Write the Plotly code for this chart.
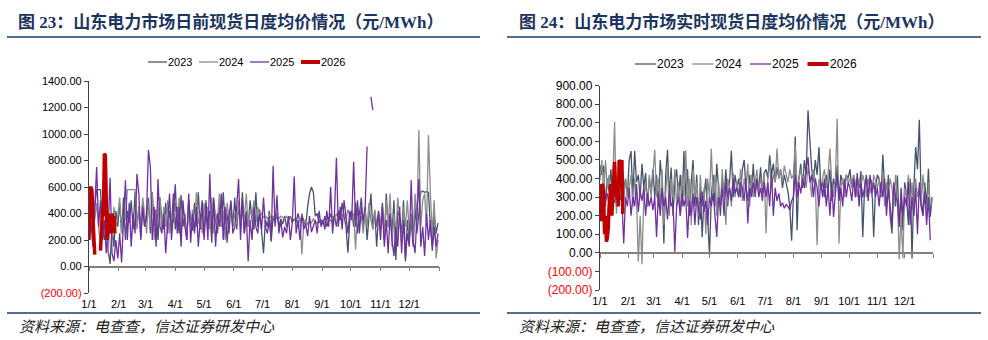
import pandas as pd
import plotly.graph_objects as go

# ---------------- data (2-day sampling) ----------------
month_labels = ["1/1", "2/1", "3/1", "4/1", "5/1", "6/1", "7/1", "8/1", "9/1", "10/1", "11/1", "12/1"]
series_names = ["2023", "2024", "2025", "2026"]

# Left: day-ahead (日前)
da_2023 = [
    380, 300, 250, 450, 580, 580, 580, 300, 200, 350, 120, 20, 300, 150, 420, 300,
    480, 250, 520, 200, 420, 330, 500, 280, 560, 300, 450, 220, 480, 300,
    350, 520, 250, 560, 300, 430, 200, 520, 350, 280, 480, 250, 420, 300, 550, 280,
    450, 250, 540, 300, 400, 200, 500, 350, 270, 480, 300, 560, 280, 420, 230,
    500, 300, 420, 180, 520, 350, 250, 470, 300, 560, 320, 400, 250, 480, 300,
    520, 280, 450, 330, 560, 250, 420, 300, 500, 350, 280, 560, 300, 430, 270,
    100, 350, 300, 420, 188, 380, 330, 400, 300, 360, 320, 380, 300, 350, 380, 330,
    360, 330, 400, 340, 380, 350, 300, 450, 550, 600, 560, 380, 400, 330, 350,
    320, 380, 300, 350, 400, 320, 380, 300, 420, 350, 480, 380, 300, 105, 350,
    420, 300, 480, 250, 400, 520, 300, 450, 200, 380, 550, 280, 420, 150, 400, 300,
    480, 200, 550, 300, 400, 250, 500, 50, 420, 380, 250, 500, 38, 350, 200,
    350, 150, 450, 250, 400, 560, 570, 560, 565, 560, 300, 150, 400, 250, 330,
]
da_2024 = [
    300, 450, 550, 350, 480, 300, 150, 400, 250, 480, 100, 350, 200, 450, 300, 380,
    520, 250, 400, 350, 580, 580, 580, 580, 580, 280, 450, 300, 520, 400,
    250, 480, 300, 550, 200, 420, 350, 520, 280, 450, 300, 500, 250, 400, 330, 480,
    300, 520, 250, 450, 350, 200, 500, 300, 430, 260, 560, 320, 400, 250, 480,
    330, 450, 280, 520, 250, 400, 350, 550, 300, 420, 200, 480, 350, 430, 300,
    400, 320, 500, 280, 450, 350, 550, 300, 420, 380, 500, 330, 450, 380, 400,
    370, 380, 360, 390, 370, 380, 350, 390, 360, 380, 370, 360, 380, 350, 370, 360,
    350, 340, 330, 360, 90, 330, 350, 320, 340, 330, 360, 340, 320, 350, 340,
    350, 330, 360, 370, 340, 380, 360, 400, 350, 420, 380, 400, 360, 430, 380,
    350, 400, 126, 450, 320, 380, 250, 420, 300, 480, 350, 280, 430, 320, 400, 280,
    450, 200, 500, 300, 550, 150, 400, 250, 520, 350, 180, 450, 300, 500, 250,
    400, 200, 550, 350, 1030, 300, 500, 550, 300, 990, 550, 250, 500, 60, 200,
]
da_2025 = [
    200, 350, 150, 450, 750, 300, 500, 200, 350, 100, 300, 670, 100, 40, 200, 60,
    250, 30, 350, 650, 200, 480, 150, 400, 250, 700, 550, 200, 450, 300,
    400, 880, 750, 200, 450, 150, 660, 300, 250, 400, 100, 300, 550, 200, 400, 620,
    250, 450, 150, 500, 300, 200, 550, 180, 400, 250, 450, 150, 350, 500, 200,
    450, 200, 700, 250, 500, 150, 400, 300, 550, 200, 450, 180, 380, 500, 250,
    300, 450, 660, 200, 500, 250, 400, 40, 350, 200, 450, 300, 250, 400, 280,
    520, 300, 250, 350, 200, 760, 300, 538, 250, 350, 220, 300, 250, 380, 200, 330,
    680, 250, 350, 200, 400, 280, 320, 230, 380, 260, 300, 350, 250, 420, 300,
    350, 280, 420, 300, 600, 250, 400, 820, 300, 450, 280, 500, 350, 250, 420,
    350, 790, 300, 500, 250, 450, 350, 450, 906, None, 1280, 1180, None, 300, 420, 200,
    450, 150, 350, 100, 400, 200, 80, 300, 150, 450, 100, 350, 60, 250, 150,
    650, 200, 100, 350, 660, 150, 300, 80, 400, 200, 350, 120, 300, 150, 250,
]
da_2026 = [200, 590, 600, 580, 380, 150, 90, None, None, None, None, None,
           120, 250, 420, 380, 850, 840, 300, 200, 400, 280, 380, 250, 400, 300, 380, 250]

# Right: real-time (实时)
rt_2023 = [
    470, 420, 470, 250, 400, 330, 450, 280, 380, 250, 420, 300, 460, 350, 400, 300,
    500, 548, 300, 550, 380, 420, 300, 480, 350, 430, 250, 400, 330, 450,
    300, 420, 250, 500, 380, 50, 420, 555, 300, 459, 200, 380, 450, 300, 420, 250,
    548, 300, 450, 200, 380, 500, 250, 420, 150, 350, 86, 300, 400, 200, -12,
    300, 420, 250, 480, 350, 200, 400, 300, 450, 250, 380, 550, 300, 420, 350,
    400, 300, 450, 500, 350, 280, 420, 330, 480, 300, 400, 350, 460, 320, 430,
    450, 400, 525, 420, 480, 380, 462, 400, 450, 350, 420, 380, 330, 250, 65, 300,
    627, 122, 400, 480, 350, 500, 420, 767, 597, 450, 380, 500, 420, 570, 350,
    380, 300, 420, 330, 450, 280, 400, 350, 471, 300, 420, 380, 350, 420, 400,
    450, 350, 420, 300, 400, 350, 440, 86, 350, 420, 300, 400, 380, 86, 350, 420,
    400, 300, 530, 350, 250, 420, 200, 104, 350, 250, 417, 150, 300, 120, 380,
    300, 150, 400, -30, 350, 570, 450, 717, 300, 200, 380, 250, 453, 194, 300,
]
rt_2024 = [
    390, 500, 300, 498, 350, 420, 250, 380, 704, 211, 380, 300, 430, 280, 400, 300,
    350, 420, 250, 400, 300, -48, 200, -61, 300, 380, 250, 420, 300, 450,
    555, 300, 400, 250, 450, 150, 350, 480, 200, 400, 300, 450, 250, 380, 200, 420,
    300, 552, 250, 400, 150, 450, 300, 380, 200, 420, 250, 350, 100, 400, 300,
    561, 300, 420, 200, 380, 250, 450, 300, 150, 400, 350, 250, 430, 300, 380,
    300, 450, 280, 400, 350, 480, 250, 420, 300, 380, 450, 320, 400, 350, 430,
    104, 400, 480, 350, 420, 380, 561, 400, 450, 380, 470, 420, 380, 450, 400, 420,
    580, 350, 400, 450, 380, 420, 350, 462, 400, 300, 450, 380, 41, 400, 350,
    400, 450, 350, 420, 561, 380, 300, 400, 722, 50, 350, 400, 300, 420, 380,
    400, 350, 420, 380, 300, 400, 350, 420, 380, 300, 400, 350, 300, 420, 380, 350,
    400, 300, 420, 250, 380, 300, 400, 350, 250, 420, 300, -35, 200, -30, 350,
    300, 420, 250, 380, 200, 400, 300, 350, 250, 420, 300, 200, 380, 250, 280,
]
rt_2025 = [
    250, 300, 350, 280, 320, 250, 350, 300, 270, 330, 250, 300, 280, 50, 300, 250,
    350, 200, 300, 250, 370, 220, 330, 280, 350, 200, 320, 250, 300, 230,
    300, 86, 320, 200, 350, 250, 300, 180, 330, 250, 280, 5, 250, 300, 200, 320,
    250, 300, 80, 280, 200, 320, 150, 300, 250, 180, 330, 220, 280, 150, 300,
    250, 320, 200, 86, 300, 250, 350, 200, 380, 300, 350, 280, 400, 320, 350,
    300, 380, 350, 280, 400, 158, 350, 300, 380, 320, 400, 300, 350, 280, 380,
    300, 380, 250, 435, 200, 350, 280, 320, 250, 270, 240, 260, 250, 230, 280, 300,
    420, 300, 380, 320, 400, 350, 450, 516, 380, 420, 300, 400, 350, 250, 380,
    300, 400, 250, 350, 200, 380, 193, 320, 420, 280, 350, 250, 400, 300, 380,
    350, 280, 400, 300, 430, 250, 380, 300, 350, 400, 280, 420, 320, 380, 300, 350,
    250, 380, 300, 400, 200, 350, 250, 150, 380, 300, 280, 140, 350, 200, 300,
    250, 380, 150, 300, 200, 350, 100, 380, 250, 200, 330, 150, 300, 68, None,
]
rt_2026 = [270, 170, 370, 360, 300, 100, 200, 60, 80, 130, 250, 350, 370, 200, 300,
           480, 490, 340, 300, 370, 250, 500, 490, 350, 500, 210]

left_ticks = [-200, 0, 200, 400, 600, 800, 1000, 1200, 1400]
right_ticks = [-200, -100, 0, 100, 200, 300, 400, 500, 600, 700, 800, 900]

# ---------------- build ----------------
def dates_for(vals, step):
    return pd.date_range("2001-01-01", periods=len(vals), freq=f"{step}D")

colors = {"2023": "#44546A", "2024": "#8C8C8C", "2025": "#7030A0", "2026": "#C00000"}
widths = {"2023": 1.3, "2024": 1.3, "2025": 1.3, "2026": 3.5}

fig = go.Figure()
left = {"2023": (da_2023, 2), "2024": (da_2024, 2), "2025": (da_2025, 2), "2026": (da_2026, 1)}
right = {"2023": (rt_2023, 2), "2024": (rt_2024, 2), "2025": (rt_2025, 2), "2026": (rt_2026, 1)}

for nm in series_names:
    v, st = left[nm]
    fig.add_trace(go.Scatter(x=dates_for(v, st), y=v, name=nm, mode="lines",
                             line=dict(color=colors[nm], width=widths[nm]),
                             xaxis="x", yaxis="y", showlegend=False, connectgaps=False))
for nm in series_names:
    v, st = right[nm]
    fig.add_trace(go.Scatter(x=dates_for(v, st), y=v, name=nm, mode="lines",
                             line=dict(color=colors[nm], width=widths[nm]),
                             xaxis="x2", yaxis="y2", showlegend=False, connectgaps=False))

# dummy traces so the zero-line tick axes render
d0 = dates_for(da_2026, 1)[:1]
fig.add_trace(go.Scatter(x=d0, y=[None], xaxis="x3", yaxis="y", showlegend=False, hoverinfo="skip"))
fig.add_trace(go.Scatter(x=d0, y=[None], xaxis="x4", yaxis="y2", showlegend=False, hoverinfo="skip"))

month_starts = pd.date_range("2001-01-01", periods=12, freq="MS")
tick_all = list(month_starts) + [pd.Timestamp("2002-01-01")]
xrange_ = ["2001-01-01", "2002-01-01"]

W, H = 988, 340
L_dom_x = [89 / W, 439 / W]
L_dom_y = [1 - 293 / H, 1 - 81 / H]
R_dom_x = [600 / W, 933 / W]
R_dom_y = [1 - 290 / H, 1 - 85.7 / H]

def zero_pos(dom, lo, hi):
    return dom[0] + (0 - lo) / (hi - lo) * (dom[1] - dom[0])

def fmt(v):
    s = f"{abs(v):.2f}"
    return f"<span style='color:#FF0000'>({s})</span>" if v < 0 else s

FONT = "Liberation Sans, Arial, sans-serif"
axis_gray = "#808080"

def label_axis(dom, anchor):
    return dict(domain=dom, anchor=anchor, range=xrange_, type="date", tickvals=list(month_starts),
                ticktext=month_labels, ticks="", showline=False, showgrid=False,
                zeroline=False, tickfont=dict(family=FONT, size=11, color="#000"),
                ticklabelstandoff=3, fixedrange=True, automargin=False)

def tick_axis(over, pos):
    return dict(overlaying=over, matches=over, anchor="free", position=pos, type="date",
                range=xrange_, tickvals=tick_all, showticklabels=False, ticks="outside",
                ticklen=4, tickcolor=axis_gray, tickwidth=1, showline=True,
                linecolor=axis_gray, linewidth=1.5, showgrid=False, zeroline=False)

def y_axis(dom, anchor, ticks, lo, hi, fsize):
    return dict(domain=dom, anchor=anchor, range=[lo, hi], tickvals=ticks,
                ticktext=[fmt(t) for t in ticks], ticks="outside", ticklen=4,
                tickcolor="#404040", showline=True, linecolor="#404040", linewidth=1.3,
                showgrid=False, zeroline=False, tickfont=dict(family=FONT, size=fsize, color="#000"),
                fixedrange=True, automargin=False)

title_font = dict(family="Liberation Serif, Noto Sans CJK SC, serif", size=17, color="#1B3461")
src_font = dict(family="Noto Sans CJK SC, sans-serif", size=15, color="#222222")
line_col = "#4F6D99"

shapes = []
for x0, x1 in [(7, 480), (507, 981)]:
    for yy in (37, 313):
        shapes.append(dict(type="line", xref="paper", yref="paper", x0=x0 / W, x1=x1 / W,
                           y0=1 - yy / H, y1=1 - yy / H, line=dict(color=line_col, width=2)))

annotations = [
    dict(text="<b>图 23：山东电力市场日前现货日度均价情况（元/MWh）</b>", xref="paper", yref="paper",
         x=16 / W, y=1 - 22 / H, xanchor="left", yanchor="middle", showarrow=False, font=title_font),
    dict(text="<b>图 24：山东电力市场实时现货日度均价情况（元/MWh）</b>", xref="paper", yref="paper",
         x=517 / W, y=1 - 22 / H, xanchor="left", yanchor="middle", showarrow=False, font=title_font),
    dict(text="<i>资料来源：电查查，信达证券研发中心</i>", xref="paper", yref="paper",
         x=17 / W, y=1 - 325 / H, xanchor="left", yanchor="middle", showarrow=False, font=src_font),
    dict(text="<i>资料来源：电查查，信达证券研发中心</i>", xref="paper", yref="paper",
         x=517 / W, y=1 - 325 / H, xanchor="left", yanchor="middle", showarrow=False, font=src_font),
]

# legends (drawn as line + label per series)
legend_specs = [(148, 51, 19, 62, 11), (635, 57.5, 21, 64, 12)]  # start x, pitch, line length, y, font
for (sx, pitch, ll, ly, fs) in legend_specs:
    for i, nm in enumerate(series_names):
        x0 = sx + i * pitch
        shapes.append(dict(type="line", xref="paper", yref="paper", x0=x0 / W, x1=(x0 + ll) / W,
                           y0=1 - ly / H, y1=1 - ly / H,
                           line=dict(color=colors[nm], width=4 if nm == "2026" else 1.3)))
        annotations.append(dict(text=nm, xref="paper", yref="paper", x=(x0 + ll) / W, y=1 - ly / H,
                                xanchor="left", yanchor="middle", showarrow=False, xshift=-1,
                                font=dict(family=FONT, size=fs, color="#000")))

fig.update_layout(
    width=W, height=H, margin=dict(l=0, r=0, t=0, b=0, autoexpand=False),
    paper_bgcolor="white", plot_bgcolor="white", showlegend=False,
    xaxis=label_axis(L_dom_x, "y"),
    xaxis2=label_axis(R_dom_x, "y2"),
    xaxis3=tick_axis("x", zero_pos(L_dom_y, -200, 1400)),
    xaxis4=tick_axis("x2", zero_pos(R_dom_y, -200, 900)),
    yaxis=y_axis(L_dom_y, "x", left_ticks, -200, 1400, 11),
    yaxis2=y_axis(R_dom_y, "x2", right_ticks, -200, 900, 12),
    shapes=shapes, annotations=annotations,
)

fig.write_html("out.html")
